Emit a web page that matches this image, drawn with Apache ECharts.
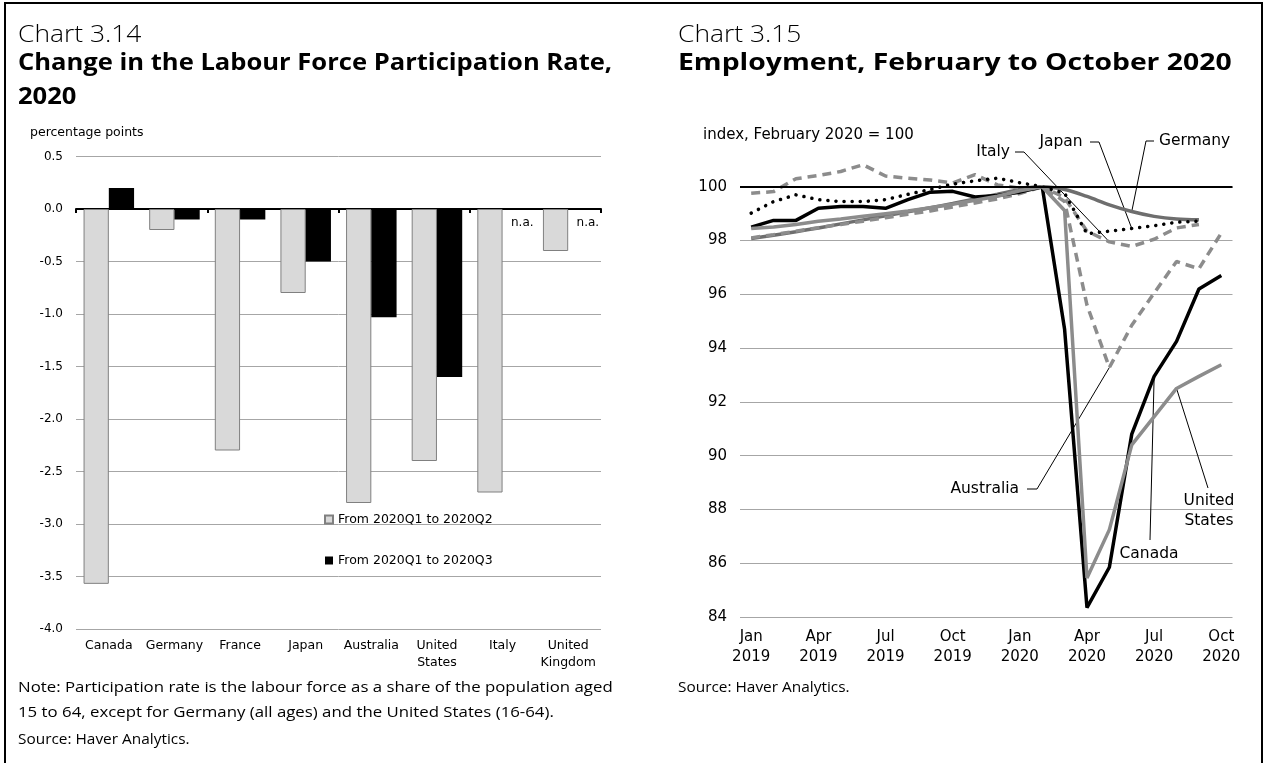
<!DOCTYPE html>
<html><head><meta charset="utf-8">
<script src="https://cdn.jsdelivr.net/npm/echarts@6/dist/echarts.min.js"></script>
<style>html,body{margin:0;padding:0;background:#fff}#c{width:1265px;height:763px}</style>
</head><body><div id="c"></div>
<script>
// ---- Chart 3.14 data ----
const countries = ['Canada','Germany','France','Japan','Australia','United States','Italy','United Kingdom'];
const q1ToQ2 = [-3.57, -0.2, -2.3, -0.8, -2.8, -2.4, -2.7, -0.4];
const q1ToQ3 = [0.2, -0.1, -0.1, -0.5, -1.03, -1.6, null, null];
const barSeriesNames = ['From 2020Q1 to 2020Q2', 'From 2020Q1 to 2020Q3'];

// ---- Chart 3.15 data (index, Feb 2020 = 100) ----
const months = ['Jan 2019','Feb 2019','Mar 2019','Apr 2019','May 2019','Jun 2019','Jul 2019','Aug 2019','Sep 2019','Oct 2019','Nov 2019','Dec 2019',
                'Jan 2020','Feb 2020','Mar 2020','Apr 2020','May 2020','Jun 2020','Jul 2020','Aug 2020','Sep 2020','Oct 2020'];
const canada       = [98.5, 98.75, 98.75, 99.2, 99.27, 99.27, 99.2, 99.52, 99.8, 99.83, 99.62, 99.68, 99.8, 100, 94.7, 84.35, 85.85, 90.8, 92.95, 94.25, 96.2, 96.7];
const unitedStates = [98.45, 98.5, 98.6, 98.72, 98.8, 98.9, 99.0, 99.1, 99.22, 99.35, 99.5, 99.65, 99.85, 100, 99.12, 85.45, 87.25, 90.4, 91.45, 92.5, 92.95, 93.38];
const germany      = [98.08, 98.2, 98.33, 98.47, 98.62, 98.77, 98.92, 99.07, 99.22, 99.38, 99.55, 99.72, 99.9, 100, 99.9, 99.64, 99.33, 99.08, 98.9, 98.8, 98.77, null];
const italy        = [99.76, 99.82, 100.3, 100.42, 100.57, 100.82, 100.4, 100.32, 100.25, 100.14, 100.45, 100.07, 99.95, 100, 99.6, 98.35, 97.95, 97.78, 98.05, 98.47, 98.6, null];
const australia    = [98.1, 98.22, 98.35, 98.48, 98.6, 98.72, 98.85, 98.98, 99.1, 99.25, 99.4, 99.55, 99.75, 100, 99.45, 95.6, 93.28, 94.85, 96.05, 97.22, 96.95, 98.28];
const japan        = [99.02, 99.45, 99.7, 99.52, 99.45, 99.45, 99.52, 99.72, 99.9, 100.1, 100.22, 100.32, 100.15, 100, 99.76, 98.25, 98.35, 98.45, 98.55, 98.68, 98.72, null];
const baseLine = 100;

const AX = 'DejaVu Sans';
const TT = 'Open Sans';

const chart = echarts.init(document.getElementById('c'), null, {renderer: 'canvas'});

const lineBase = {type: 'line', xAxisIndex: 2, yAxisIndex: 1, symbol: 'none', showSymbol: false, silent: true, connectNulls: false};

const option = {
  animation: false,
  backgroundColor: '#fff',
  grid: [
    {left: 76, right: 664, top: 156.5, bottom: 134},
    {left: 740, right: 32.5, top: 133, bottom: 146}
  ],
  legend: {
    orient: 'vertical', left: 319, top: 508, itemWidth: 8, itemHeight: 8, itemGap: 28,
    icon: 'rect', selectedMode: false, data: barSeriesNames,
    textStyle: {fontFamily: AX, fontSize: 12.5, color: '#000'}
  },
  xAxis: [
    {gridIndex: 0, type: 'category', data: countries, position: 'bottom',
     axisLine: {onZero: true, lineStyle: {color: '#000', width: 2}},
     axisTick: {show: true, length: 4, lineStyle: {color: '#000', width: 2}},
     axisLabel: {show: false}, splitLine: {show: false}},
    {gridIndex: 0, type: 'category', data: countries, position: 'bottom',
     axisLine: {show: false, onZero: false}, axisTick: {show: false}, splitLine: {show: false},
     axisLabel: {interval: 0, margin: 8, fontFamily: AX, fontSize: 12.5, lineHeight: 17, color: '#000',
       formatter: v => v.replace(' ', '\n')}},
    {gridIndex: 1, type: 'category', data: months, boundaryGap: true,
     axisLine: {show: false}, axisTick: {show: false}, splitLine: {show: false},
     axisLabel: {interval: (i) => i % 3 === 0, margin: 10, fontFamily: AX, fontSize: 15, lineHeight: 20, color: '#000',
       formatter: v => v.replace(' ', '\n')}}
  ],
  yAxis: [
    {gridIndex: 0, type: 'value', min: -4, max: 0.5, interval: 0.5,
     axisLine: {show: false}, axisTick: {show: false},
     axisLabel: {margin: 13, fontFamily: AX, fontSize: 12, color: '#000', formatter: v => v.toFixed(1)},
     splitLine: {show: true, lineStyle: {color: '#a6a6a6', width: 1}}},
    {gridIndex: 1, type: 'value', min: 84, max: 102, interval: 2,
     axisLine: {show: false}, axisTick: {show: false},
     axisLabel: {margin: 13, fontFamily: AX, fontSize: 15, color: '#000', showMaxLabel: false},
     splitLine: {show: true, showMaxLine: false, lineStyle: {color: '#a6a6a6', width: 1}}}
  ],
  series: [
    {name: barSeriesNames[0], type: 'bar', xAxisIndex: 0, yAxisIndex: 0, data: q1ToQ2,
     barGap: '0%', barCategoryGap: '23%', silent: true,
     itemStyle: {color: '#d9d9d9', borderColor: '#808080', borderWidth: 1}},
    {name: barSeriesNames[1], type: 'bar', xAxisIndex: 0, yAxisIndex: 0, data: q1ToQ3,
     barGap: '0%', barCategoryGap: '23%', silent: true,
     itemStyle: {color: '#000'}},
    Object.assign({}, lineBase, {name: 'Germany', data: germany, smooth: 0.35,
      lineStyle: {color: '#6e6e6e', width: 3.5},
      markLine: {silent: true, symbol: 'none', label: {show: false},
        lineStyle: {color: '#000', width: 2, type: 'solid'}, data: [{yAxis: baseLine}]}}),
    Object.assign({}, lineBase, {name: 'Italy', data: italy,
      lineStyle: {color: '#8c8c8c', width: 3.5, type: [9, 6]}}),
    Object.assign({}, lineBase, {name: 'Australia', data: australia,
      lineStyle: {color: '#8c8c8c', width: 3.5, type: [9, 6]}}),
    Object.assign({}, lineBase, {name: 'Japan', data: japan,
      lineStyle: {color: '#000', width: 3.5, type: [0.1, 8], cap: 'round'}}),
    Object.assign({}, lineBase, {name: 'Canada', data: canada,
      lineStyle: {color: '#000', width: 3.5}}),
    Object.assign({}, lineBase, {name: 'United States', data: unitedStates,
      lineStyle: {color: '#8c8c8c', width: 3.5}})
  ]
};
chart.setOption(option);

// ---- texts and annotations ----
function pt(series, idx) {
  return chart.convertToPixel({xAxisIndex: 2, yAxisIndex: 1}, [months[idx], series[idx]]);
}
function txt(x, y, text, font, align, sx) {
  const el = {type: 'text', x: x, y: y, silent: true,
    style: {text: text, font: font, fill: '#000', textAlign: align || 'left', textVerticalAlign: 'middle'}};
  if (sx) { el.scaleX = sx; el.originX = 0; el.originY = 0; }
  return el;
}
function line(points) {
  return {type: 'polyline', silent: true, shape: {points: points}, style: {stroke: '#000', lineWidth: 1, fill: null}};
}
const ann = '15.5px "' + AX + '"';
const LX = 18;
const RX = 678;
const g = [];
g.push({type: 'rect', silent: true, shape: {x: 5, y: 3, width: 1257, height: 770}, style: {stroke: '#000', lineWidth: 2, fill: null}});
// Left panel
g.push(txt(LX, 35, 'Chart 3.14', '300 24px "' + TT + '"', 'left', 1.1));
g.push(txt(LX, 63, 'Change in the Labour Force Participation Rate,', 'bold 24px "' + TT + '"', 'left', 1.065));
g.push(txt(LX, 97, '2020', 'bold 24px "' + TT + '"', 'left', 1.065));
g.push(txt(30, 133, 'percentage points', '12.5px "' + AX + '"'));
g.push(txt(LX, 688, 'Note: Participation rate is the labour force as a share of the population aged', '14px "' + TT + '"', 'left', 1.2));
g.push(txt(LX, 713, '15 to 64, except for Germany (all ages) and the United States (16-64).', '14px "' + TT + '"', 'left', 1.2));
g.push(txt(LX, 740, 'Source: Haver Analytics.', '14px "' + TT + '"', 'left', 1.1));
// n.a. labels for missing Q3 values
const c0 = chart.convertToPixel({xAxisIndex: 0, yAxisIndex: 0}, [countries[0], 0]);
const c1 = chart.convertToPixel({xAxisIndex: 0, yAxisIndex: 0}, [countries[1], 0]);
const band = c1[0] - c0[0];
q1ToQ3.forEach((v, i) => {
  if (v === null) {
    const p = chart.convertToPixel({xAxisIndex: 0, yAxisIndex: 0}, [countries[i], 0]);
    g.push(txt(p[0] + band * 0.3, p[1] + 14, 'n.a.', '12px "' + AX + '"', 'center'));
  }
});
// Right panel
g.push(txt(RX, 35, 'Chart 3.15', '300 24px "' + TT + '"', 'left', 1.1));
g.push(txt(RX, 63, 'Employment, February to October 2020', 'bold 24px "' + TT + '"', 'left', 1.18));
g.push(txt(703, 135, 'index, February 2020 = 100', '15px "' + AX + '"'));
g.push(txt(RX, 688, 'Source: Haver Analytics.', '14px "' + TT + '"', 'left', 1.1));

// Italy
let p = pt(italy, 16);
g.push(txt(1010, 152, 'Italy', ann, 'right'));
g.push(line([[1015, 152], [1024, 152], p]));
// Japan
p = pt(japan, 17);
g.push(txt(1061, 142, 'Japan', ann, 'center'));
g.push(line([[1090, 142], [1099, 142], p]));
// Germany
p = pt(germany, 17);
g.push(txt(1159, 141, 'Germany', ann, 'left'));
g.push(line([[1154, 141], [1146, 141], p]));
// Australia
p = pt(australia, 16);
g.push(txt(1019, 489, 'Australia', ann, 'right'));
g.push(line([[1027, 489], [1037, 489], p]));
// Canada
p = pt(canada, 18);
g.push(txt(1149, 554, 'Canada', ann, 'center'));
g.push(line([[1150, 540], p]));
// United States
p = pt(unitedStates, 19);
g.push(txt(1209, 501, 'United', ann, 'center'));
g.push(txt(1209, 521, 'States', ann, 'center'));
g.push(line([[1208, 488], p]));

chart.setOption({graphic: g});
</script>
</body></html>
